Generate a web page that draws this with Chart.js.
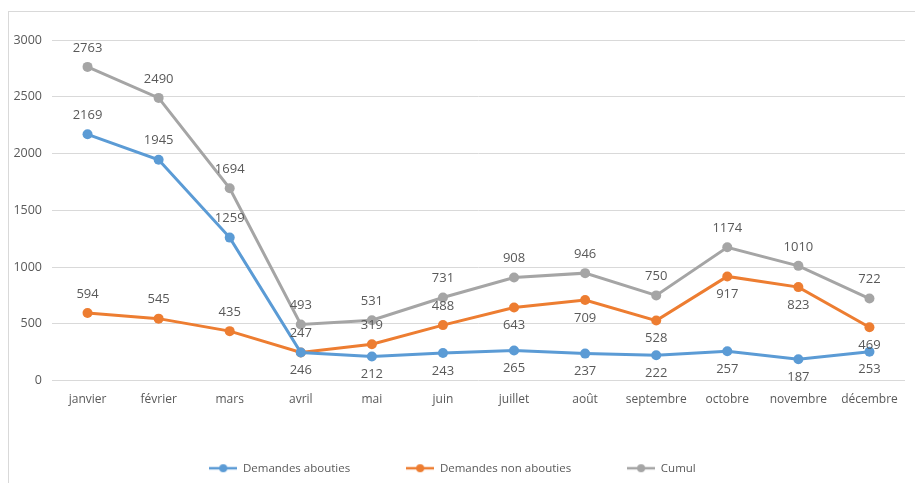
<!DOCTYPE html>
<html>
<head>
<meta charset="utf-8">
<script src="https://cdn.jsdelivr.net/npm/chart.js@4/dist/chart.umd.min.js"></script>
<style>
  html, body { margin: 0; padding: 0; background: #fff; overflow: hidden; }
  #wrap { position: absolute; left: 0; top: 0; width: 915px; height: 483px; }
  #frame { position: absolute; left: 8px; top: 11px; width: 930px; height: 500px; border: 1px solid #d9d9d9; }
</style>
</head>
<body>
<div id="frame"></div>
<div id="wrap"><canvas id="chart" width="915" height="483"></canvas></div>
<script>
// data
const months = ["janvier", "février", "mars", "avril", "mai", "juin", "juillet", "août", "septembre", "octobre", "novembre", "décembre"];
const abouties = [2169, 1945, 1259, 246, 212, 243, 265, 237, 222, 257, 187, 253];
const nonAbouties = [594, 545, 435, 247, 319, 488, 643, 709, 528, 917, 823, 469];
const cumul = [2763, 2490, 1694, 493, 531, 731, 908, 946, 750, 1174, 1010, 722];

// which side of the point each value label sits on (styling only)
const aboutiesSide = ["up", "up", "up", "down", "down", "down", "down", "down", "down", "down", "down", "down"];
const nonAboutiesSide = ["up", "up", "up", "up", "up", "up", "down", "down", "down", "down", "down", "down"];
const cumulSide = ["up", "up", "up", "up", "up", "up", "up", "up", "up", "up", "up", "up"];

const BLUE = "#5b9bd5";
const ORANGE = "#ed7d31";
const GREY = "#a5a5a5";
const TEXT = "#595959";
const FONT = "'Open Sans', sans-serif";

// legend symbol: short line with a dot in the middle
function legendIcon(color) {
  const c = document.createElement("canvas");
  c.width = 28;
  c.height = 10;
  const g = c.getContext("2d");
  g.strokeStyle = color;
  g.lineWidth = 2.5;
  g.beginPath();
  g.moveTo(0, 5);
  g.lineTo(28, 5);
  g.stroke();
  g.fillStyle = color;
  g.beginPath();
  g.arc(14, 5, 4, 0, Math.PI * 2);
  g.fill();
  return c;
}

// simple value labels, above or below each point
const valueLabels = {
  id: "valueLabels",
  afterDatasetsDraw(chart) {
    const ctx = chart.ctx;
    ctx.save();
    ctx.font = "13px " + FONT;
    ctx.fillStyle = TEXT;
    ctx.textAlign = "center";
    ctx.textBaseline = "middle";
    chart.data.datasets.forEach((ds, i) => {
      const meta = chart.getDatasetMeta(i);
      meta.data.forEach((pt, j) => {
        const dy = ds.labelSide[j] === "up" ? -19 : 18;
        ctx.fillText(String(ds.data[j]), pt.x, pt.y + dy);
      });
    });
    ctx.restore();
  }
};

const line = (label, data, color, side) => ({
  label,
  data,
  labelSide: side,
  borderColor: color,
  backgroundColor: color,
  borderWidth: 3,
  pointRadius: 5,
  pointHoverRadius: 5,
  pointBorderWidth: 0,
  pointStyle: "circle",
  tension: 0,
  fill: false,
});

const ctx = document.getElementById("chart").getContext("2d");
const chart = new Chart(ctx, {
  type: "line",
  data: {
    labels: months,
    datasets: [
      line("Demandes abouties", abouties, BLUE, aboutiesSide),
      line("Demandes non abouties", nonAbouties, ORANGE, nonAboutiesSide),
      line("Cumul", cumul, GREY, cumulSide),
    ],
  },
  options: {
    responsive: false,
    animation: false,
    layout: { padding: { left: 0, right: 10, top: 40, bottom: -1 } },
    plugins: {
      tooltip: { enabled: false },
      legend: {
        position: "bottom",
        labels: {
          usePointStyle: true,
          pointStyleWidth: 28,
          color: TEXT,
          font: { family: FONT, size: 11.5 },
          padding: 56,
          boxHeight: 10,
          generateLabels: (chart) => chart.data.datasets.map((ds, i) => ({
            text: ds.label,
            fontColor: TEXT,
            pointStyle: legendIcon(ds.borderColor),
            hidden: false,
            datasetIndex: i,
          })),
        },
      },
    },
    scales: {
      x: {
        offset: true,
        grid: { display: false, drawTicks: false },
        border: { display: false },
        ticks: { color: TEXT, font: { family: FONT, size: 12 }, padding: 12, maxRotation: 0, autoSkip: false },
        afterFit: (s) => { s.height = 26; },
      },
      y: {
        min: 0,
        max: 3000,
        grid: { color: "#d9d9d9", drawTicks: false, lineWidth: 1 },
        border: { display: false },
        ticks: { stepSize: 500, color: TEXT, font: { family: FONT, size: 12.5 }, padding: 10, callback: (v) => String(v) },
        afterFit: (s) => { s.width = 52; },
      },
    },
  },
  plugins: [valueLabels],
});
</script>
</body>
</html>
